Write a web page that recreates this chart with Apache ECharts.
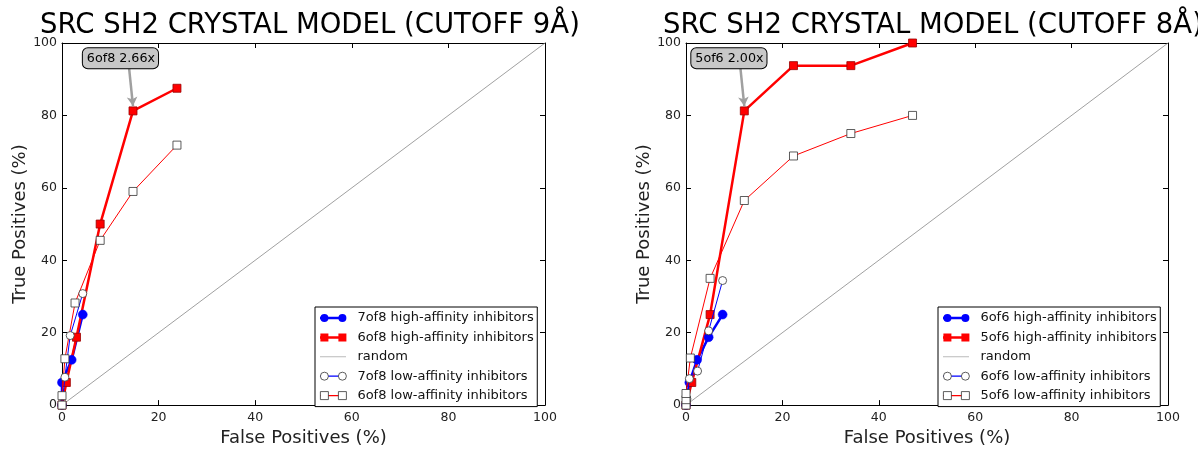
<!DOCTYPE html>
<html>
<head>
<meta charset="utf-8">
<script src="https://cdn.jsdelivr.net/npm/echarts@6/dist/echarts.min.js"></script>
<style>
html,body{margin:0;padding:0;background:#fff;}
#c{width:1198px;height:452px;}
</style>
</head>
<body>
<div id="c"></div>
<script>
// ---------- data (False Positives %, True Positives %) ----------
const leftTitle = 'SRC SH2 CRYSTAL MODEL (CUTOFF 9Å)';
const rightTitle = 'SRC SH2 CRYSTAL MODEL (CUTOFF 8Å)';
const xAxisName = 'False Positives (%)';
const yAxisName = 'True Positives (%)';

const leftNames = ['7of8 high-affinity inhibitors', '6of8 high-affinity inhibitors', 'random',
                   '7of8 low-affinity inhibitors', '6of8 low-affinity inhibitors'];
const rightNames = ['6of6 high-affinity inhibitors', '5of6 high-affinity inhibitors', 'random',
                    '6of6 low-affinity inhibitors', '5of6 low-affinity inhibitors'];

const left7of8High = [[0,0],[0,6.25],[2.0,12.5],[4.3,25]];
const left6of8High = [[0,0],[0.9,6.25],[3.0,18.75],[7.9,50],[14.7,81.25],[23.8,87.5]];
const left7of8Low  = [[0,0],[0.6,7.7],[1.7,19.2],[4.3,30.8]];
const left6of8Low  = [[0,0],[0,2.6],[0.6,12.8],[2.7,28.2],[7.9,45.5],[14.7,59.0],[23.8,71.8]];

const right6of6High = [[0,0],[0.7,6.25],[2.3,12.5],[4.7,18.75],[7.6,25]];
const right5of6High = [[0,0],[1.2,6.25],[5.0,25],[12.1,81.25],[22.3,93.75],[34.2,93.75],[47.0,100]];
const right6of6Low  = [[0,0],[0.2,1.7],[0.7,7.3],[2.4,9.4],[4.7,20.5],[7.6,34.4]];
const right5of6Low  = [[0,0],[0,1.5],[0,3.2],[0.9,13],[5.0,35],[12.1,56.5],[22.3,68.8],[34.2,75],[47.0,80]];

const randomLine = [[0,0],[100,100]];
const axisTicks = [0, 20, 40, 60, 80, 100];

const leftAnnotText = '6of8 2.66x';
const leftAnnotBox = [12.1, 95.8];
const leftArrowFrom = [13.9, 92.9];
const leftArrowTo = [14.7, 82.6];
const rightAnnotText = '5of6 2.00x';
const rightAnnotBox = [8.9, 95.8];
const rightArrowFrom = [11.3, 92.9];
const rightArrowTo = [12.1, 82.6];

// ---------- styles ----------
const FONT = 'DejaVu Sans';
const BLUE = '#0000ff', RED = '#ff0000', GRAY = '#888888';
const grids = [
  {left: 62, top: 43, width: 483, height: 370},
  {left: 686, top: 43, width: 482, height: 370}
];

function makeAxes(gi) {
  const base = {
    type: 'value', gridIndex: gi, min: axisTicks[0], max: axisTicks[axisTicks.length-1],
    interval: axisTicks[1] - axisTicks[0],
    axisLine: {show: true, onZero: false, lineStyle: {color: '#000', width: 1}},
    axisTick: {show: true, inside: true, length: 5, lineStyle: {color: '#000', width: 1}},
    splitLine: {show: false}
  };
  const x = [
    Object.assign({}, base, {position: 'bottom',
      axisLabel: {color: '#222', fontSize: 12.5, margin: 6, fontFamily: FONT},
      name: xAxisName, nameLocation: 'middle', nameGap: 20,
      nameTextStyle: {fontSize: 18, color: '#222', fontFamily: FONT}}),
    Object.assign({}, base, {position: 'top', axisLabel: {show: false}})
  ];
  const y = [
    Object.assign({}, base, {position: 'left',
      axisLabel: {color: '#222', fontSize: 12.5, margin: 5, fontFamily: FONT},
      name: yAxisName, nameLocation: 'middle', nameGap: 32, nameRotate: 90,
      nameTextStyle: {fontSize: 18, color: '#222', fontFamily: FONT}}),
    Object.assign({}, base, {position: 'right', axisLabel: {show: false}})
  ];
  return {x, y};
}

function makeSeries(gi, names, hiCirc, hiSq, loCirc, loSq, annot) {
  const ax = gi * 2;
  const common = {type: 'line', xAxisIndex: ax, yAxisIndex: ax, showAllSymbol: true,
                  animation: false, silent: true, clip: false};
  return [
    Object.assign({}, common, {name: names[0], data: hiCirc, symbol: 'circle', symbolSize: 9,
      lineStyle: {color: BLUE, width: 2.5}, itemStyle: {color: BLUE, borderColor: BLUE, borderWidth: 0.5}, z: 3}),
    Object.assign({}, common, {name: names[1], data: hiSq, symbol: 'rect', symbolSize: 8,
      lineStyle: {color: RED, width: 2.5}, itemStyle: {color: RED, borderColor: '#990000', borderWidth: 0.8}, z: 3,
      markPoint: {silent: true, symbol: 'circle', symbolSize: 1,
        itemStyle: {color: 'rgba(0,0,0,0)'},
        label: {show: true, position: 'inside', formatter: '{b}', color: '#000', fontSize: 12.7, fontFamily: FONT,
          backgroundColor: '#c8c8c8', borderColor: '#000', borderWidth: 1, borderRadius: 5, padding: [4, 3, 3, 4]},
        data: [{name: annot.text, coord: annot.box}]},
      markLine: {silent: true, symbol: ['none', 'arrow'], symbolSize: [8, 9], animation: false,
        lineStyle: {color: '#a0a0a0', width: 2.5, type: 'solid', curveness: -0.3},
        label: {show: false},
        data: [[{coord: annot.from}, {coord: annot.to}]]}}),
    Object.assign({}, common, {name: names[2], data: randomLine, showSymbol: false, symbol: 'none',
      lineStyle: {color: GRAY, width: 0.8}, z: 2}),
    Object.assign({}, common, {name: names[3], data: loCirc, symbol: 'circle', symbolSize: 8,
      lineStyle: {color: BLUE, width: 1}, itemStyle: {color: '#fff', borderColor: '#333', borderWidth: 0.8}, z: 4}),
    Object.assign({}, common, {name: names[4], data: loSq, symbol: 'rect', symbolSize: 8,
      lineStyle: {color: RED, width: 1}, itemStyle: {color: '#fff', borderColor: '#333', borderWidth: 0.8}, z: 4})
  ];
}

// legend icon paths (26 x 8 box)
const SPECKS = 'M0,0L0.01,0L0,0.01ZM26,8L25.99,8L26,7.99Z';
function barPath(h) { const a = 4 - h/2, b = 4 + h/2; return 'path://' + SPECKS + 'M0,' + a + 'L26,' + a + 'L26,' + b + 'L0,' + b + 'Z'; }
const CIRCLES = 'path://M0,4A4,4,0,1,1,8,4A4,4,0,1,1,0,4ZM18,4A4,4,0,1,1,26,4A4,4,0,1,1,18,4Z';
const SQUARES = 'path://M0,0L8,0L8,8L0,8ZM18,0L26,0L26,8L18,8Z';
const legendColors = [BLUE, RED, '#bbbbbb', BLUE, RED];
const legendBarH = [2.5, 2.5, 1, 1.2, 1.2];

function makeLegends(names, left, top) {
  const base = {orient: 'vertical', left: left, top: top, padding: [4, 4, 4, 5], itemGap: 5.4,
    itemWidth: 26, itemHeight: 8, selectedMode: false, symbolKeepAspect: false,
    textStyle: {fontSize: 13, lineHeight: 14, fontFamily: FONT, padding: [0, 0, 0, 6]}};
  const bars = Object.assign({}, base, {
    backgroundColor: '#fff', borderColor: '#000', borderWidth: 1, borderRadius: 0, z: 10,
    textStyle: Object.assign({}, base.textStyle, {color: 'rgba(0,0,0,0)'}),
    data: names.map((n, i) => ({name: n, icon: barPath(legendBarH[i]),
      itemStyle: {color: legendColors[i], borderWidth: 0, opacity: 1}}))
  });
  const markers = Object.assign({}, base, {
    borderWidth: 0, z: 11,
    textStyle: Object.assign({}, base.textStyle, {color: '#111'}),
    data: names.map((n, i) => {
      if (i === 2) return {name: n, icon: CIRCLES, itemStyle: {color: 'rgba(0,0,0,0)', borderWidth: 0}};
      const icon = (i === 0 || i === 3) ? CIRCLES : SQUARES;
      const st = i < 2 ? {color: legendColors[i], borderWidth: 0}
                       : {color: '#fff', borderColor: '#333', borderWidth: 0.8};
      return {name: n, icon: icon, itemStyle: st};
    })
  });
  return [bars, markers];
}

const a0 = makeAxes(0), a1 = makeAxes(1);
const option = {
  animation: false,
  backgroundColor: '#fff',
  textStyle: {fontFamily: FONT},
  title: [
    {text: leftTitle, left: 305, top: 7, textAlign: 'center',
     textStyle: {fontSize: 27.5, fontWeight: 'normal', color: '#000', fontFamily: FONT}},
    {text: rightTitle, left: 928, top: 7, textAlign: 'center',
     textStyle: {fontSize: 27.5, fontWeight: 'normal', color: '#000', fontFamily: FONT}}
  ],
  grid: grids,
  xAxis: a0.x.concat(a1.x),
  yAxis: a0.y.concat(a1.y),
  legend: makeLegends(leftNames, 315, 307).concat(makeLegends(rightNames, 938, 307)),
  series: makeSeries(0, leftNames, left7of8High, left6of8High, left7of8Low, left6of8Low,
              {text: leftAnnotText, box: leftAnnotBox, from: leftArrowFrom, to: leftArrowTo})
    .concat(makeSeries(1, rightNames, right6of6High, right5of6High, right6of6Low, right5of6Low,
              {text: rightAnnotText, box: rightAnnotBox, from: rightArrowFrom, to: rightArrowTo}))
};
const chart = echarts.init(document.getElementById('c'), null, {renderer: 'canvas'});
chart.setOption(option);
</script>
</body>
</html>
